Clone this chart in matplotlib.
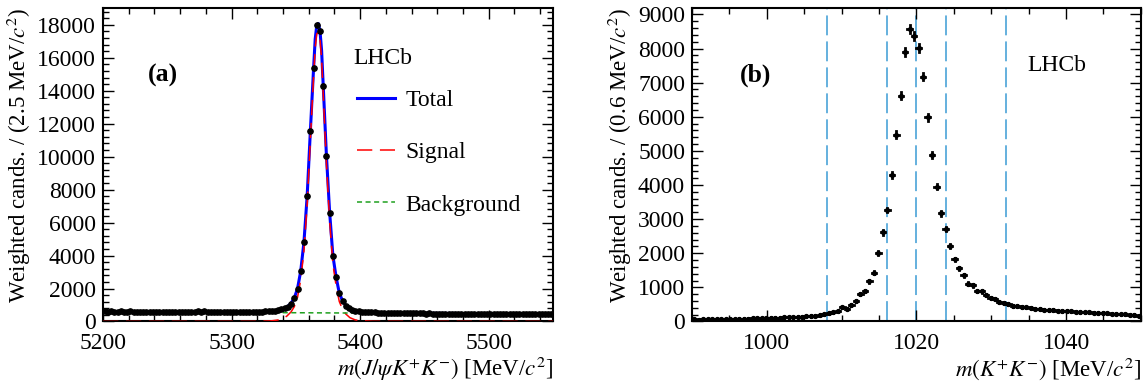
import numpy as np
import matplotlib
matplotlib.use('Agg')
import matplotlib.pyplot as plt
from matplotlib.lines import Line2D
from matplotlib.ticker import MultipleLocator

plt.rcParams['font.family'] = ['Liberation Serif', 'DejaVu Serif']
plt.rcParams['mathtext.fontset'] = 'stix'
plt.rcParams['font.size'] = 17
plt.rcParams['axes.labelsize'] = 16.5

# ---- panel (a): m(J/psi K+ K-), 2.5 MeV bins from 5200 to 5550
massA_lo, massA_hi, binA = 5200.0, 5550.0, 2.5
countsA = [
    610, 595, 620, 605, 590, 615, 600, 585, 610, 600,
    575, 600, 590, 605, 580, 595, 585, 600, 570, 590,
    575, 560, 585, 570, 590, 575, 595, 585, 600, 610,
    595, 615, 600, 590, 575, 590, 580, 570, 585, 575,
    565, 580, 570, 585, 575, 590, 580, 595, 590, 605,
    615, 630, 650, 665, 690, 730, 790, 890, 1080, 1420,
    1980, 3050, 4800, 7600, 11550, 15350, 18000, 17600, 14300, 10050,
    6600, 4000, 2680, 1700, 1230, 950, 790, 700, 640, 610,
    590, 575, 565, 550, 545, 540, 530, 535, 525, 515,
    520, 505, 510, 500, 505, 495, 490, 500, 485, 490,
    480, 485, 475, 480, 470, 475, 480, 465, 470, 460,
    475, 465, 470, 460, 455, 465, 460, 450, 465, 455,
    450, 460, 445, 455, 450, 440, 455, 445, 450, 440,
    445, 450, 435, 445, 440, 430, 445, 435, 440, 430,
]

# fit components
sigX = [5200, 5320, 5330, 5336, 5340, 5343, 5346.25, 5348.75, 5351.25, 5353.75,
        5356.25, 5358.75, 5361.25, 5363.75, 5365, 5366.25, 5367.5, 5368.75, 5370,
        5371.25, 5373.75, 5376.25, 5378.75, 5381.25, 5383.75, 5386.25, 5388.75,
        5392, 5396, 5400, 5410, 5550]
sigY = [0, 5, 30, 90, 180, 330, 580, 900, 1460, 2530,
        4280, 7080, 11030, 14830, 16600, 17450, 17550, 17100, 15900,
        13790, 9540, 6090, 3490, 2180, 1210, 740, 460,
        230, 100, 45, 8, 0]
bkgX = [5200, 5550]
bkgY = [590, 450]

# ---- panel (b): m(K+ K-), 0.6 MeV bins from 990 to 1050
massB_lo, massB_hi, binB = 990.0, 1050.0, 0.6
countsB = [
    60, 55, 60, 65, 60, 70, 65, 70, 75, 70,
    80, 85, 80, 90, 95, 90, 100, 105, 110, 110,
    120, 125, 130, 135, 145, 150, 160, 175, 195, 215,
    240, 265, 300, 410, 380, 490, 610, 800, 900, 1180,
    1430, 2000, 2610, 3270, 4290, 5480, 6620, 7900, 8580, 8370,
    8020, 7170, 5980, 4880, 3950, 3170, 2720, 2210, 1820, 1560,
    1360, 1110, 1060, 900, 880, 780, 690, 670, 570, 540,
    510, 460, 445, 425, 410, 395, 375, 370, 350, 340,
    335, 320, 310, 310, 295, 285, 280, 270, 265, 255,
    250, 250, 240, 225, 230, 215, 205, 200, 195, 175,
]
phiCuts = [1008, 1016, 1020, 1024, 1032]


def style_axes(ax, xmajor, xminor, ymajor, yminor):
    ax.xaxis.set_major_locator(MultipleLocator(xmajor))
    ax.xaxis.set_minor_locator(MultipleLocator(xminor))
    ax.yaxis.set_major_locator(MultipleLocator(ymajor))
    ax.yaxis.set_minor_locator(MultipleLocator(yminor))
    ax.tick_params(which='both', direction='in', top=True, right=True, width=1.0)
    ax.tick_params(which='major', length=8, pad=5)
    ax.tick_params(axis='x', which='major', pad=8)
    ax.tick_params(which='minor', length=4)
    for s in ax.spines.values():
        s.set_linewidth(1.5)


fig = plt.figure(figsize=(11.45, 3.85), dpi=100)
axA = fig.add_axes([0.090, 0.165, 0.393, 0.8135])
axB = fig.add_axes([0.6044, 0.165, 0.392, 0.8135])

# panel (a)
centresA = massA_lo + binA * (np.arange(len(countsA)) + 0.5)
errA = np.sqrt(np.array(countsA, dtype=float)) * 1.2
sigX = np.array(sigX)
bkgAtSig = np.interp(sigX, bkgX, bkgY)
totY = np.array(sigY) + bkgAtSig

axA.plot(sigX, totY, color='#0000ff', lw=2.2, zorder=2)
axA.plot(sigX, sigY, color='#ff0000', lw=1.1, dashes=(10, 5), zorder=3)
axA.plot(bkgX, bkgY, color='#1fa01f', lw=1.1, dashes=(3.3, 2.3), zorder=3)
axA.errorbar(centresA, countsA, yerr=errA, fmt='o', color='black', ms=3.8,
             elinewidth=1.0, capsize=0, zorder=4)

axA.set_xlim(massA_lo, massA_hi)
axA.set_ylim(0, 19000)
style_axes(axA, 100, 20, 2000, 400)
axA.set_xlabel(r'$m(J/\psi K^{+}K^{-})$ [MeV/$c^{2}$]', loc='right', labelpad=1)
axA.set_ylabel('Weighted cands. / (2.5 MeV/$c^{2}$)', loc='top', labelpad=3)
axA.text(0.1, 0.786, '(a)', transform=axA.transAxes, fontweight='bold',
         fontsize=18.5, va='center')
axA.text(0.556, 0.841, 'LHCb', transform=axA.transAxes, va='center')

handles = [Line2D([], [], color='#0000ff', lw=2.2),
           Line2D([], [], color='#ff0000', lw=1.1, dashes=(10, 5)),
           Line2D([], [], color='#1fa01f', lw=1.1, dashes=(3.3, 2.3))]
axA.legend(handles, ['Total', 'Signal', 'Background'], loc='upper left',
           bbox_to_anchor=(0.565, 0.74), frameon=False, handlelength=1.6,
           handletextpad=0.45, labelspacing=1.3, borderpad=0, borderaxespad=0)

# panel (b)
centresB = massB_lo + binB * (np.arange(len(countsB)) + 0.5)
errB = np.sqrt(np.array(countsB, dtype=float)) * 1.2
for c in phiCuts:
    axB.axvline(c, color='#3b9bd4', lw=1.1, dashes=(13, 4), zorder=1)
ebB = axB.errorbar(centresB, countsB, yerr=errB, xerr=binB / 2, fmt='o',
                   color='black', ms=2.8, elinewidth=2.0, capsize=0, zorder=3)
for bars in ebB[2]:
    bars.set_capstyle('projecting')

axB.set_xlim(massB_lo, massB_hi)
axB.set_ylim(0, 9180)
style_axes(axB, 20, 5, 1000, 200)
axB.set_xlabel(r'$m(K^{+}K^{-})$ [MeV/$c^{2}$]', loc='right', labelpad=1)
axB.set_ylabel('Weighted cands. / (0.6 MeV/$c^{2}$)', loc='top', labelpad=3)
axB.text(0.107, 0.786, '(b)', transform=axB.transAxes, fontweight='bold',
         fontsize=18.5, va='center')
axB.text(0.746, 0.818, 'LHCb', transform=axB.transAxes, va='center')

fig.savefig('out.png', dpi=100)
